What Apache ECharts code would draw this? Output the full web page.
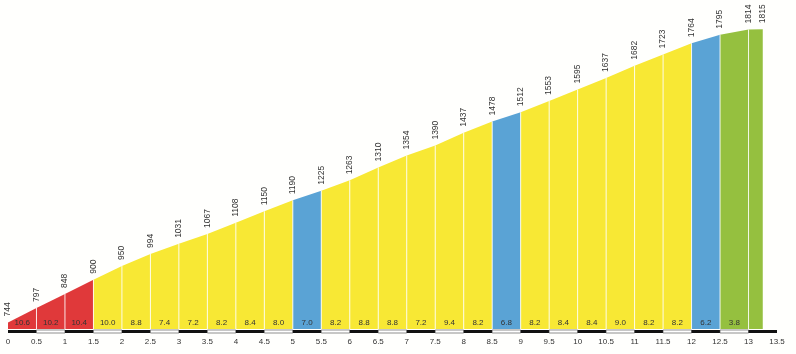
<!DOCTYPE html>
<html>
<head>
<meta charset="utf-8">
<style>
  html, body { margin: 0; padding: 0; background: #fffffd; }
  #chart { width: 796px; height: 354px; }
</style>
<script src="https://cdn.jsdelivr.net/npm/echarts@6/dist/echarts.min.js"></script>
</head>
<body>
<div id="chart"></div>
<script>
// distance along the climb (km) and elevation (m) at each marker
var distances = [0, 0.5, 1, 1.5, 2, 2.5, 3, 3.5, 4, 4.5, 5, 5.5, 6, 6.5, 7, 7.5, 8, 8.5, 9, 9.5, 10, 10.5, 11, 11.5, 12, 12.5, 13, 13.25];
var elevations = [744, 797, 848, 900, 950, 994, 1031, 1067, 1108, 1150, 1190, 1225, 1263, 1310, 1354, 1390, 1437, 1478, 1512, 1553, 1595, 1637, 1682, 1723, 1764, 1795, 1814, 1815];
// gradient (%) printed under each segment, last short stretch has none
var gradients = [10.6, 10.2, 10.4, 10.0, 8.8, 7.4, 7.2, 8.2, 8.4, 8.0, 7.0, 8.2, 8.8, 8.8, 7.2, 9.4, 8.2, 6.8, 8.2, 8.4, 8.4, 9.0, 8.2, 8.2, 6.2, 3.8, null];
var tickLabels = [0, 0.5, 1, 1.5, 2, 2.5, 3, 3.5, 4, 4.5, 5, 5.5, 6, 6.5, 7, 7.5, 8, 8.5, 9, 9.5, 10, 10.5, 11, 11.5, 12, 12.5, 13, 13.5];

var yMin = 720, yMax = 1900;
var ink = '#333333';

function gradColor(g) {
  if (g == null || g < 6) return '#95c03f';
  if (g <= 7) return '#5aa3d5';
  if (g <= 10) return '#f8e834';
  return '#e0393a';
}

var segData = [];
for (var i = 0; i < distances.length - 1; i++) {
  segData.push([distances[i], elevations[i], distances[i + 1], elevations[i + 1], gradients[i]]);
}
var barData = [];
for (var j = 0; j < tickLabels.length - 1; j++) {
  barData.push([tickLabels[j], tickLabels[j + 1]]);
}

var chart = echarts.init(document.getElementById('chart'), null, { renderer: 'canvas' });

chart.setOption({
  animation: false,
  backgroundColor: '#fffffd',
  grid: { left: 8, right: 19, top: 6, bottom: 25 },
  xAxis: {
    type: 'value',
    min: 0,
    max: 13.5,
    interval: 0.5,
    axisLine: { show: false },
    axisTick: { show: false },
    splitLine: { show: false },
    axisLabel: { color: ink, fontSize: 8, fontFamily: 'Liberation Sans', margin: 9 }
  },
  yAxis: { type: 'value', min: yMin, max: yMax, show: false },
  series: [
    {
      // coloured profile segments
      type: 'custom',
      clip: false,
      data: segData,
      renderItem: function(params, api) {
        var x0 = api.value(0), e0 = api.value(1), x1 = api.value(2), e1 = api.value(3);
        var g = gradients[params.dataIndex];
        var pTop0 = api.coord([x0, e0]);
        var pTop1 = api.coord([x1, e1]);
        var pBot0 = api.coord([x0, yMin]);
        var pBot1 = api.coord([x1, yMin]);
        var children = [
          {
            type: 'polygon',
            shape: { points: [pTop0, pTop1, pBot1, pBot0] },
            style: { fill: gradColor(g) }
          }
        ];
        if (params.dataIndex > 0) {
          children.push({
            type: 'line',
            shape: { x1: pTop0[0], y1: pTop0[1], x2: pBot0[0], y2: pBot0[1] },
            style: { stroke: 'rgba(255,255,255,0.85)', lineWidth: 1 }
          });
        }
        if (g != null) {
          children.push({
            type: 'text',
            x: (pBot0[0] + pBot1[0]) / 2,
            y: pBot0[1] - 6,
            style: {
              text: g.toFixed(1), fill: ink, fontSize: 8, fontFamily: 'Liberation Sans',
              align: 'center', verticalAlign: 'middle'
            }
          });
        }
        return { type: 'group', children: children };
      },
      z: 2
    },
    {
      // rotated elevation labels
      type: 'custom',
      clip: false,
      data: elevations.map(function(e, k) { return [distances[k], e]; }),
      renderItem: function(params, api) {
        var p = api.coord([api.value(0), api.value(1)]);
        return {
          type: 'text',
          x: p[0],
          y: p[1] - 6,
          rotation: Math.PI / 2,
          style: {
            text: String(api.value(1)), fill: ink, fontSize: 8.5, fontFamily: 'Liberation Sans',
            align: 'left', verticalAlign: 'middle'
          }
        };
      },
      z: 3
    },
    {
      // black / white distance bar under the profile
      type: 'custom',
      clip: false,
      data: barData,
      renderItem: function(params, api) {
        var a = api.coord([api.value(0), yMin]);
        var b = api.coord([api.value(1), yMin]);
        var dark = params.dataIndex % 2 === 0;
        return {
          type: 'rect',
          shape: { x: a[0], y: a[1] + 1, width: b[0] - a[0], height: 3 },
          style: dark ? { fill: '#111111' } : { fill: '#ffffff', stroke: '#444444', lineWidth: 0.6 }
        };
      },
      z: 1
    }
  ]
});
</script>
</body>
</html>
